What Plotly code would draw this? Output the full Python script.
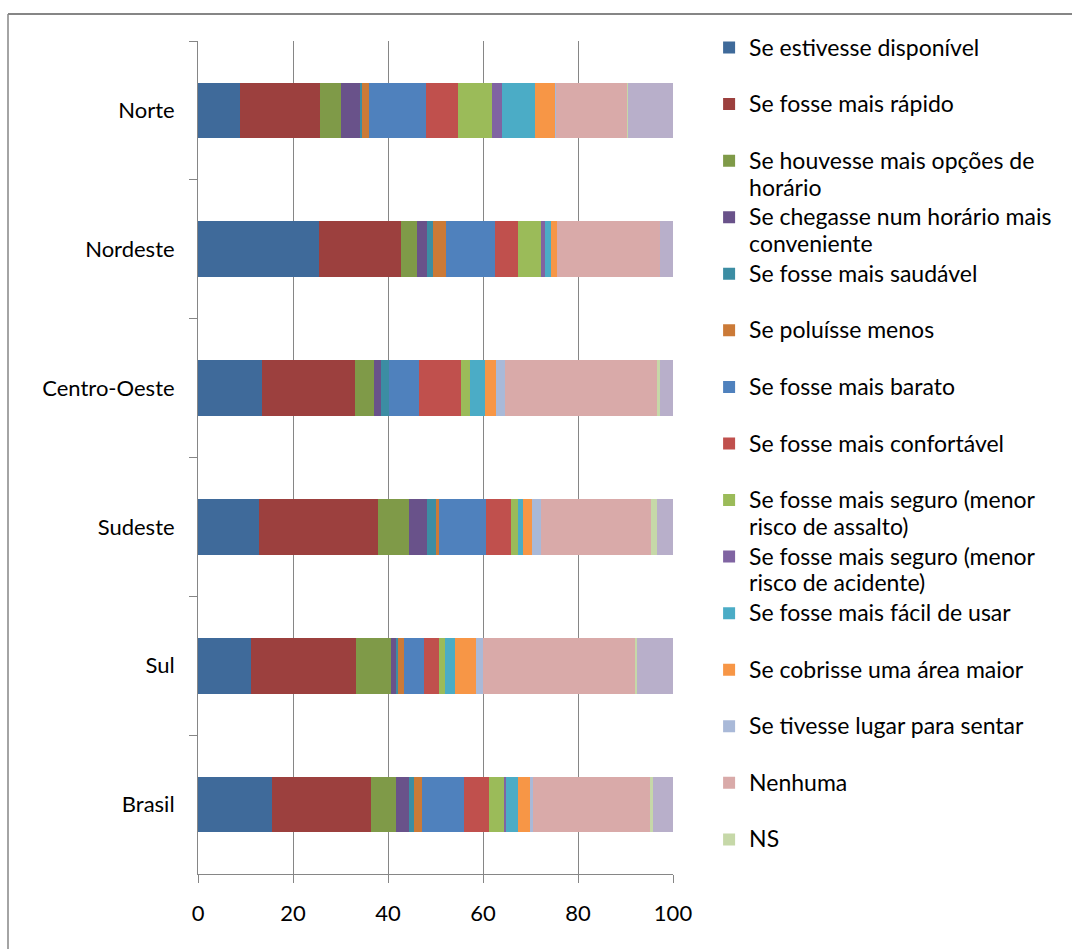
import plotly.graph_objects as go

# Regions, top to bottom
regions = ["Norte", "Nordeste", "Centro-Oeste", "Sudeste", "Sul", "Brasil"]

# Answer options (stack order, left to right)
options = [
    "Se estivesse disponível",
    "Se fosse mais rápido",
    "Se houvesse mais opções de horário",
    "Se chegasse num horário mais conveniente",
    "Se fosse mais saudável",
    "Se poluísse menos",
    "Se fosse mais barato",
    "Se fosse mais confortável",
    "Se fosse mais seguro (menor risco de assalto)",
    "Se fosse mais seguro (menor risco de acidente)",
    "Se fosse mais fácil de usar",
    "Se cobrisse uma área maior",
    "Se tivesse lugar para sentar",
    "Nenhuma",
    "NS",
    "Outros",
]

# Legend labels, split into the lines shown in the legend column
legend_lines = [
    ["Se estivesse disponível"],
    ["Se fosse mais rápido"],
    ["Se houvesse mais opções de", "horário"],
    ["Se chegasse num horário mais", "conveniente"],
    ["Se fosse mais saudável"],
    ["Se poluísse menos"],
    ["Se fosse mais barato"],
    ["Se fosse mais confortável"],
    ["Se fosse mais seguro (menor", "risco de assalto)"],
    ["Se fosse mais seguro (menor", "risco de acidente)"],
    ["Se fosse mais fácil de usar"],
    ["Se cobrisse uma área maior"],
    ["Se tivesse lugar para sentar"],
    ["Nenhuma"],
    ["NS"],
    ["Outros"],
]

# Percentages per region, one value per option (same order as `options`)
norte        = [8.8, 16.8, 4.6, 3.8, 0.6, 1.3, 12.2, 6.7, 7.0, 2.1, 7.1, 4.2, 0.2, 15.0, 0.2, 9.4]
nordeste     = [25.4, 17.4, 3.4, 2.1, 1.1, 2.9, 10.3, 4.7, 5.0, 0.8, 1.3, 1.1, 0.0, 21.8, 0.0, 2.7]
centro_oeste = [13.4, 19.6, 4.0, 1.6, 1.7, 0.0, 6.3, 8.7, 1.9, 0.0, 3.3, 2.3, 1.8, 32.1, 0.6, 2.7]
sudeste      = [12.8, 25.0, 6.7, 3.8, 1.7, 0.8, 9.9, 5.1, 1.5, 0.0, 1.2, 1.9, 1.9, 23.1, 1.3, 3.3]
sul          = [11.1, 22.1, 7.5, 0.9, 0.6, 1.1, 4.2, 3.3, 1.3, 0.0, 1.9, 4.6, 1.4, 32.2, 0.2, 7.6]
brasil       = [15.5, 21.0, 5.1, 2.9, 0.9, 1.7, 9.0, 5.1, 3.3, 0.4, 2.4, 2.5, 0.8, 24.6, 0.5, 4.3]

x_ticks = [0, 20, 40, 60, 80, 100]

colors = [
    "#3F6A9A", "#9C403E", "#7F9A48", "#69528A", "#3C8DA3", "#CB7A37",
    "#4F81BD", "#C0504D", "#9BBB59", "#8064A2", "#4BACC6", "#F79646",
    "#A9B9D8", "#D9AAA9", "#C6D8A8", "#B8AFCA",
]

by_region = [norte, nordeste, centro_oeste, sudeste, sul, brasil]

FONT = "Lato"
GRAY = "#868686"
LEGEND_SLOT_FONT = 20.6   # sets the legend row pitch (two rows per entry)
LEGEND_TEXT_SIZE = 23     # visible size of the legend text


def legend_label(lines):
    # every entry occupies two rows so all entries get the same pitch
    rows = list(lines) + ["\u00a0"] * (2 - len(lines))
    return "<br>".join(
        f"<span style='font-size:{LEGEND_TEXT_SIZE}px'>{r}</span>" for r in rows
    )


fig = go.Figure()
for i, name in enumerate(options):
    fig.add_trace(go.Bar(
        y=regions,
        x=[vals[i] for vals in by_region],
        name=legend_label(legend_lines[i]),
        orientation="h",
        marker=dict(color=colors[i], line=dict(width=0)),
        showlegend=(i < 15),
        hovertemplate="%{y}: %{x}%<extra>" + name + "</extra>",
    ))

fig.update_layout(
    barmode="stack",
    bargap=0.6,
    width=1072,
    height=949,
    margin=dict(l=198, r=399, t=41, b=75),
    paper_bgcolor="white",
    plot_bgcolor="white",
    font=dict(family=FONT, size=21, color="#000000"),
    legend=dict(
        x=1.076, xanchor="left",
        y=1.016, yanchor="top",
        traceorder="normal",
        valign="top",
        tracegroupgap=0,
        maxheight=940,
        font=dict(family=FONT, size=LEGEND_SLOT_FONT, color="#000000"),
        bgcolor="rgba(0,0,0,0)",
        itemclick=False,
    ),
    xaxis=dict(
        range=[0, 100],
        tickvals=x_ticks,
        showgrid=True,
        gridcolor=GRAY,
        gridwidth=1,
        zeroline=False,
        showline=True,
        linecolor=GRAY,
        linewidth=1,
        ticks="outside",
        ticklen=8,
        tickcolor=GRAY,
        tickfont=dict(family=FONT, size=22, color="#000000"),
        ticklabelstandoff=12,
        fixedrange=True,
    ),
    yaxis=dict(
        type="category",
        categoryorder="array",
        categoryarray=regions,
        autorange="reversed",
        showgrid=False,
        zeroline=False,
        showline=True,
        linecolor=GRAY,
        linewidth=1,
        ticks="outside",
        tickson="boundaries",
        ticklen=8,
        tickcolor=GRAY,
        tickfont=dict(family=FONT, size=22, color="#000000"),
        ticklabelstandoff=18,
        fixedrange=True,
    ),
    shapes=[
        # outer chart frame (top and left edges visible)
        dict(type="line", xref="paper", yref="paper",
             x0=-0.4, x1=2.0, y0=1.0324, y1=1.0324,
             line=dict(color=GRAY, width=2)),
        dict(type="line", xref="paper", yref="paper",
             x0=-0.4, x1=-0.4, y0=1.0324, y1=-1.0,
             line=dict(color=GRAY, width=1.5)),
    ],
)

fig.write_html("out.html")
